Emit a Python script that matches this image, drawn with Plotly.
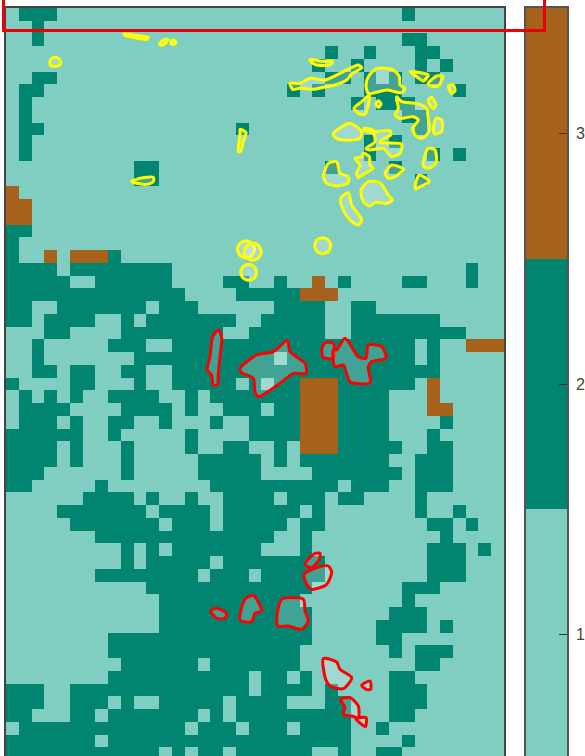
import numpy as np
import plotly.graph_objects as go

N_COLS = 39
N_ROWS = 59
LEVELS = [1, 2, 3]
LEVEL_COLORS = ["#80CDC1", "#018571", "#A6611A"]

# Inclusive column runs of class 2 for every row of the raster
DARK_RUNS = [
    [(1,3),(31,31)], [(2,2)], [(2,2),(31,32)], [(25,25),(28,28),(32,33)],
    [(24,24),(27,27),(32,32),(34,34)], [(2,3),(25,26),(28,28),(30,30),(32,33)],
    [(1,2),(22,22),(24,24),(28,30),(35,35)], [(1,1),(27,27),(29,31)],
    [(1,1),(31,32)], [(1,2),(18,18),(32,32)], [(1,1),(28,28),(30,30)],
    [(1,1),(28,28),(33,33),(35,35)], [(10,11),(25,25),(30,30)], [(10,11),(32,32)],
    [], [], [], [(0,1)], [(0,0)], [(0,0),(8,8)],
    [(0,3),(5,12),(36,36)],
    [(0,4),(7,12),(17,18),(21,21),(26,26),(31,32),(36,36)],
    [(0,13),(18,22)],
    [(0,1),(4,10),(12,14),(21,24),(27,28)],
    [(0,1),(3,6),(9,9),(11,17),(20,24),(27,33)],
    [(3,4),(9,16),(19,24),(27,35)],
    [(2,2),(8,10),(13,31),(33,33)],
    [(2,2),(10,20),(22,31),(33,33)],
    [(2,3),(5,6),(9,10),(13,33)],
    [(0,0),(5,6),(10,10),(13,17),(19,19),(21,22),(26,31)],
    [(1,1),(3,3),(5,5),(8,11),(14,14),(16,22),(26,29)],
    [(1,4),(9,12),(14,14),(17,19),(21,22),(26,29)],
    [(1,3),(5,5),(8,9),(12,12),(16,16),(19,22),(26,29),(34,34)],
    [(0,5),(8,8),(14,14),(19,22),(26,29),(33,33)],
    [(0,3),(5,5),(9,9),(14,14),(17,18),(21,21),(26,30),(33,34)],
    [(0,3),(5,5),(9,9),(15,19),(21,21),(23,29),(32,34)],
    [(0,2),(9,9),(15,19),(24,30),(32,34)],
    [(0,1),(7,7),(16,25),(27,29),(32,34)],
    [(6,9),(11,11),(14,14),(17,20),(22,24),(26,27),(32,32)],
    [(4,10),(12,15),(17,22),(24,24),(32,32),(35,35)],
    [(5,11),(13,15),(17,21),(23,24),(33,34),(36,36)],
    [(7,20),(23,23),(34,34)],
    [(9,9),(11,11),(13,19),(23,23),(33,35),(37,37)],
    [(9,9),(11,15),(17,24),(33,35)],
    [(7,14),(16,18),(20,24),(33,35)],
    [(11,23),(31,33)],
    [(12,22),(31,31)],
    [(12,23),(30,32)],
    [(12,23),(29,32),(34,34)],
    [(8,23),(29,30)],
    [(8,22),(30,30),(32,34)],
    [(9,14),(16,22),(32,33)],
    [(8,18),(20,21),(23,23),(30,31)],
    [(0,2),(5,18),(20,23),(25,25),(30,32)],
    [(0,2),(5,7),(9,9),(12,16),(18,21),(25,26),(30,32)],
    [(0,1),(5,6),(8,14),(16,16),(18,26),(30,31)],
    [(1,13),(15,17),(19,21),(23,26),(29,29)],
    [(0,6),(8,26),(31,31)],
    [(0,11),(13,13),(15,16),(18,23),(26,26),(29,30)],
]

# Row -> inclusive column runs of class 3
BROWN_RUNS = {
    14: [(0,0)], 15: [(0,1)], 16: [(0,1)], 19: [(3,3),(5,7)], 21: [(24,24)],
    22: [(23,25)], 26: [(36,38)], 29: [(23,25),(33,33)], 30: [(23,25),(33,33)],
    31: [(23,25),(33,34)], 32: [(23,25)], 33: [(23,25)], 34: [(23,25)],
}

# Outlines in map units (the map is 1494 units wide, a cell 38.3 x 38.25)
MAP_X0, MAP_X1, MAP_Y0, MAP_Y1 = 18, 1512, 24, 2268

YELLOW_OUTLINES = [
    [(372,101),(400,105),(445,112),(440,118),(400,112),(375,106)],
    [(478,132),(490,120),(503,118),(498,128),(488,136)],
    [(514,122),(522,121),(528,127),(522,133),(514,132)],
    [(150,183),(160,172),(175,175),(183,188),(175,198),(152,197)],
    [(720,388),(738,398),(730,425),(722,455),(715,455),(718,420),(720,400)],
    [(395,545),(420,535),(460,532),(460,545),(440,553),(410,550)],
    [(738,722),(756,730),(764,748),(756,766),(738,774),(720,766),(712,748),(720,730)],
    [(758,729),(776,737),(784,755),(776,773),(758,781),(740,773),(732,755),(740,737)],
    [(746,793),(763,800),(770,817),(763,834),(746,841),(729,834),(722,817),(729,800)],
    [(968,713),(985,720),(992,737),(985,754),(968,761),(951,754),(944,737),(951,720)],
    [(930,178),(965,184),(998,184),(990,195),(950,195),(935,187)],
    [(870,250),(900,250),(930,235),(975,240),(1020,220),(1075,195),(1085,203),(1055,222),(1040,240),(1005,255),(970,262),(940,268),(900,265),(878,268)],
    [(1105,230),(1130,205),(1180,210),(1198,230),(1200,255),(1215,265),(1205,278),(1160,270),(1105,280),(1098,255)],
    [(1062,325),(1085,305),(1108,285),(1105,315),(1095,343),(1075,340)],
    [(1135,302),(1143,312),(1135,322),(1128,312)],
    [(1190,290),(1205,305),(1250,310),(1280,325),(1285,360),(1290,385),(1280,405),(1265,415),(1245,405),(1238,385),(1255,360),(1240,350),(1200,355),(1185,345),(1195,325),(1190,300)],
    [(1230,215),(1270,220),(1285,225),(1270,243),(1250,230)],
    [(1285,250),(1310,228),(1328,228),(1315,258),(1290,258)],
    [(1345,258),(1360,255),(1365,272),(1355,280)],
    [(1285,300),(1295,292),(1308,315),(1300,326),(1288,312)],
    [(1300,395),(1308,355),(1325,360),(1325,395),(1305,402)],
    [(1000,400),(1050,370),(1085,395),(1080,415),(1030,420),(1005,412)],
    [(1092,385),(1115,388),(1125,395),(1170,392),(1172,405),(1145,420),(1140,428),(1205,432),(1200,460),(1175,470),(1150,445),(1110,450),(1098,445),(1125,425),(1120,400),(1095,393)],
    [(1065,475),(1085,470),(1090,460),(1108,470),(1110,495),(1120,505),(1095,520),(1075,532),(1070,520),(1080,495)],
    [(1272,475),(1285,445),(1305,450),(1308,490),(1285,505),(1270,498)],
    [(1155,520),(1175,495),(1210,508),(1185,530),(1165,535)],
    [(1245,560),(1258,525),(1288,545),(1260,560),(1247,567)],
    [(970,530),(985,490),(1010,485),(1020,520),(1045,530),(1045,548),(1010,558),(980,550)],
    [(1083,570),(1105,545),(1140,548),(1165,585),(1177,600),(1160,610),(1125,607),(1110,618),(1090,605)],
    [(1022,595),(1045,578),(1055,615),(1085,660),(1075,675),(1050,660),(1030,630)],
]

RED_OUTLINES = [
    [(655,990),(665,1012),(660,1070),(655,1120),(652,1155),(640,1155),(635,1125),(622,1110),(630,1070),(638,1010)],
    [(720,1105),(770,1065),(820,1055),(862,1022),(870,1055),(915,1090),(918,1120),(880,1120),(840,1150),(775,1190),(765,1175),(760,1135),(725,1118)],
    [(965,1050),(975,1028),(1000,1030),(1000,1075),(970,1072)],
    [(1010,1050),(1035,1015),(1075,1070),(1098,1075),(1105,1035),(1145,1040),(1158,1075),(1115,1085),(1105,1100),(1110,1148),(1050,1145),(1030,1095),(1005,1100),(1000,1050)],
    [(632,1833),(650,1825),(680,1840),(675,1855),(650,1855)],
    [(720,1860),(735,1798),(760,1786),(785,1833),(765,1840),(755,1865)],
    [(845,1798),(910,1798),(915,1833),(925,1863),(905,1888),(865,1878),(835,1878),(830,1860)],
    [(915,1693),(945,1660),(960,1660),(958,1678),(935,1703)],
    [(912,1723),(950,1703),(985,1698),(995,1716),(980,1753),(935,1768),(920,1753)],
    [(970,1976),(1010,1986),(1020,2008),(1055,2033),(1030,2066),(990,2058),(977,2038)],
    [(1085,2056),(1110,2043),(1112,2068),(1098,2068)],
    [(1022,2098),(1050,2093),(1075,2118),(1075,2153),(1055,2148),(1030,2143),(1035,2123)],
    [(1068,2156),(1098,2153),(1096,2180)],
]

grid = np.ones((N_ROWS, N_COLS), dtype=int)
for r, runs in enumerate(DARK_RUNS):
    for a, b in runs:
        grid[r, a:b + 1] = LEVELS[1]
for r, runs in BROWN_RUNS.items():
    for a, b in runs:
        grid[r, a:b + 1] = LEVELS[2]

W, H = 585, 756
dx = (MAP_X1 - MAP_X0) / N_COLS
dy = 38.25
n = len(LEVEL_COLORS)
cs = []
for i, c in enumerate(LEVEL_COLORS):
    cs += [[i / n, c], [(i + 1) / n, c]]

fig = go.Figure()
fig.add_trace(go.Heatmap(
    z=grid, x0=MAP_X0 + dx / 2, dx=dx, y0=MAP_Y0 + dy / 2, dy=dy,
    zmin=0.5, zmax=3.5, colorscale=cs, hoverinfo="skip", showscale=False,
))
# The colour key, a one-column raster of the three classes on its own axis
fig.add_trace(go.Heatmap(
    z=[[v] for v in LEVELS], x=[0], y=LEVELS, xaxis="x2", yaxis="y2",
    zmin=0.5, zmax=3.5, colorscale=cs, hoverinfo="skip", showscale=False,
))

def add_outline(pts, color):
    xs = [p[0] for p in pts] + [pts[0][0]]
    ys = [p[1] for p in pts] + [pts[0][1]]
    fig.add_trace(go.Scatter(
        x=xs, y=ys, mode="lines", fill="toself",
        fillcolor="rgba(255,255,255,0.25)",
        line=dict(color=color, width=3, shape="spline", smoothing=0.7),
        hoverinfo="skip", showlegend=False,
    ))

for p in YELLOW_OUTLINES:
    add_outline(p, "#FFFF00")
for p in RED_OUTLINES:
    add_outline(p, "#FF0000")

top = 1 - 8 / H
fig.update_layout(
    width=W, height=H, margin=dict(l=0, r=0, t=0, b=0, autoexpand=False),
    paper_bgcolor="white", plot_bgcolor="white", showlegend=False,
    xaxis=dict(domain=[6 / W, 504 / W], range=[MAP_X0, MAP_X1], side="top", showgrid=False, zeroline=False,
               showticklabels=False, ticks="", showline=True, linecolor="#444444", linewidth=1.5),
    yaxis=dict(domain=[0, top], range=[MAP_Y1, MAP_Y0], showgrid=False, zeroline=False,
               showticklabels=False, ticks="", showline=True, mirror=True,
               linecolor="#444444", linewidth=1.5),
    xaxis2=dict(domain=[526 / W, 567 / W], anchor="y2", range=[-0.5, 0.5], side="top", showgrid=False,
                zeroline=False, showticklabels=False, ticks="", showline=True,
                linecolor="#555555", linewidth=1.5),
    yaxis2=dict(domain=[0, top], anchor="x2", side="right", range=[0.516, 3.5], showgrid=False,
                zeroline=False, tickvals=LEVELS, ticktext=[str(v) for v in LEVELS],
                ticks="inside", ticklen=8, tickcolor="#333333", tickwidth=1,
                ticklabelstandoff=4,
                tickfont=dict(family="Liberation Sans", size=16, color="#444444"),
                showline=True, mirror=True, linecolor="#555555", linewidth=1.5),
    shapes=[dict(type="rect", xref="paper", yref="paper",
                 x0=3.5 / W, x1=544.5 / W, y0=1 - 30.5 / H, y1=1.01,
                 line=dict(color="#E8000B", width=3), fillcolor="rgba(0,0,0,0)", layer="above")],
)
fig.write_html("out.html", config={"displayModeBar": False},
               post_script="document.body.style.margin='0';document.documentElement.style.overflow='hidden';")
